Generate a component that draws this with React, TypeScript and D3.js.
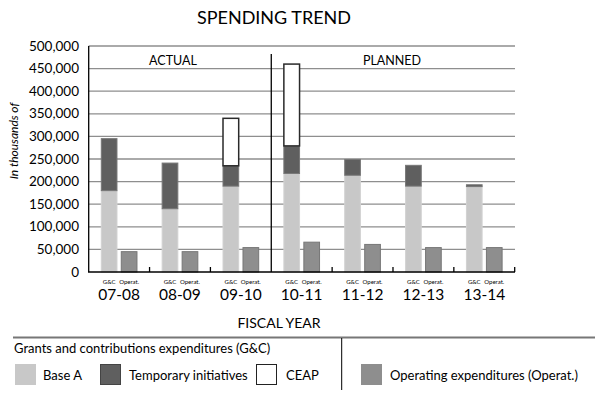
import React, { useEffect, useRef } from 'react'
import * as d3 from 'd3'

const years = ['07-08', '08-09', '09-10', '10-11', '11-12', '12-13', '13-14']
const baseA = [180000, 140000, 190000, 218000, 214000, 190000, 189000]
const temporary = [115000, 101000, 45000, 61000, 35000, 46000, 4000]
const ceap = [0, 0, 105000, 181000, 0, 0, 0]
const operating = [45000, 45000, 54000, 66000, 61000, 54000, 54000]
const yTicks = [0, 50000, 100000, 150000, 200000, 250000, 300000, 350000, 400000, 450000, 500000]
const subBars = ['G&C', 'Operat.']

const FONT = 'Lato, "Open Sans", sans-serif'

export default function App() {
  const svgRef = useRef(null)

  useEffect(() => {
    const svg = d3.select(svgRef.current)
    svg.selectAll('*').remove()

    const x = d3.scaleBand().domain(years).range([88.7, 514.7]).padding(0)
    const xSub = d3
      .scaleBand()
      .domain(subBars)
      .range([0, x.bandwidth()])
      .paddingInner(0.215)
      .paddingOuter(0.63)
    const y = d3.scaleLinear().domain([0, 500000]).range([272, 46])

    // title
    svg
      .append('text')
      .attr('x', 274)
      .attr('y', 24)
      .attr('text-anchor', 'middle')
      .attr('font-size', 18)
      .attr('font-family', FONT)
      .text('SPENDING TREND')

    // gridlines
    svg
      .append('g')
      .selectAll('line')
      .data(yTicks.filter((d) => d > 0))
      .enter()
      .append('line')
      .attr('x1', 88.7)
      .attr('x2', 515)
      .attr('y1', (d) => y(d))
      .attr('y2', (d) => y(d))
      .attr('stroke', '#8e8e8e')
      .attr('stroke-width', 1.3)

    // y tick labels
    svg
      .append('g')
      .selectAll('text')
      .data(yTicks)
      .enter()
      .append('text')
      .attr('x', 79)
      .attr('y', (d) => y(d) + 4.5)
      .attr('text-anchor', 'end')
      .attr('font-size', 13.5)
      .attr('font-family', FONT)
      .text((d) => d3.format(',')(d))

    svg
      .append('text')
      .attr('transform', 'translate(18,141) rotate(-90)')
      .attr('text-anchor', 'middle')
      .attr('font-size', 12)
      .attr('font-style', 'italic')
      .attr('font-family', FONT)
      .text('In thousands of')

    // stacked G&C bars
    const rows = years.map((yr, i) => ({
      year: yr,
      base: baseA[i],
      temp: temporary[i],
      ceap: ceap[i],
    }))
    const stack = d3.stack().keys(['base', 'temp', 'ceap'])(rows)
    const fills = { base: '#c8c8c8', temp: '#5f5f5f', ceap: '#ffffff' }
    const strokes = { base: '#d2d2d2', temp: '#777777', ceap: '#2a2a2a' }

    stack.forEach((layer) => {
      svg
        .append('g')
        .selectAll('rect')
        .data(layer.filter((d) => d[1] > d[0]))
        .enter()
        .append('rect')
        .attr('x', (d) => x(d.data.year) + xSub('G&C'))
        .attr('y', (d) => y(d[1]))
        .attr('width', xSub.bandwidth())
        .attr('height', (d) => y(d[0]) - y(d[1]))
        .attr('fill', fills[layer.key])
        .attr('stroke', strokes[layer.key])
        .attr('stroke-width', layer.key === 'ceap' ? 1.5 : 1)
    })

    // operating bars
    svg
      .append('g')
      .selectAll('rect')
      .data(years)
      .enter()
      .append('rect')
      .attr('x', (d) => x(d) + xSub('Operat.'))
      .attr('y', (d, i) => y(operating[i]))
      .attr('width', xSub.bandwidth())
      .attr('height', (d, i) => y(0) - y(operating[i]))
      .attr('fill', '#8e8e8e')
      .attr('stroke', '#777777')
      .attr('stroke-width', 1)

    // axes
    svg
      .append('line')
      .attr('x1', 88.7)
      .attr('x2', 88.7)
      .attr('y1', 46)
      .attr('y2', 272)
      .attr('stroke', '#000')
      .attr('stroke-width', 1.3)
    svg
      .append('line')
      .attr('x1', 88)
      .attr('x2', 515)
      .attr('y1', 272)
      .attr('y2', 272)
      .attr('stroke', '#000')
      .attr('stroke-width', 1.3)

    // group separators on baseline
    svg
      .append('g')
      .selectAll('line')
      .data(years.slice(1).concat(['end']))
      .enter()
      .append('line')
      .attr('x1', (d) => (d === 'end' ? 514.7 : x(d)))
      .attr('x2', (d) => (d === 'end' ? 514.7 : x(d)))
      .attr('y1', (d) => (d === '10-11' ? 54 : 267))
      .attr('y2', 272)
      .attr('stroke', '#000')
      .attr('stroke-width', 1.3)

    svg
      .append('text')
      .attr('x', 173)
      .attr('y', 65)
      .attr('text-anchor', 'middle')
      .attr('font-size', 12.5)
      .attr('font-family', FONT)
      .text('ACTUAL')
    svg
      .append('text')
      .attr('x', 392)
      .attr('y', 65)
      .attr('text-anchor', 'middle')
      .attr('font-size', 12.5)
      .attr('font-family', FONT)
      .text('PLANNED')

    // x labels
    const groups = svg
      .append('g')
      .selectAll('g')
      .data(years)
      .enter()
      .append('g')
      .attr('transform', (d) => `translate(${x(d)},0)`)
    subBars.forEach((s) => {
      groups
        .append('text')
        .attr('x', xSub(s) + xSub.bandwidth() / 2)
        .attr('y', 284)
        .attr('text-anchor', 'middle')
        .attr('font-size', 6)
        .attr('font-family', FONT)
        .text(s)
    })
    groups
      .append('text')
      .attr('x', x.bandwidth() / 2)
      .attr('y', 299.5)
      .attr('text-anchor', 'middle')
      .attr('font-size', 15.5)
      .attr('font-family', FONT)
      .text((d) => d)

    svg
      .append('text')
      .attr('x', 279)
      .attr('y', 328)
      .attr('text-anchor', 'middle')
      .attr('font-size', 14)
      .attr('font-family', FONT)
      .text('FISCAL YEAR')

    // legend
    svg
      .append('line')
      .attr('x1', 13)
      .attr('x2', 595)
      .attr('y1', 337.5)
      .attr('y2', 337.5)
      .attr('stroke', '#777')
      .attr('stroke-width', 2)
    svg
      .append('line')
      .attr('x1', 341.7)
      .attr('x2', 341.7)
      .attr('y1', 338)
      .attr('y2', 390)
      .attr('stroke', '#000')
      .attr('stroke-width', 1)
    svg
      .append('text')
      .attr('x', 14)
      .attr('y', 353)
      .attr('font-size', 13)
      .attr('font-family', FONT)
      .text('Grants and contributions expenditures (G&C)')

    const legendItems = [
      { label: 'Base A', fill: '#c8c8c8', stroke: '#c8c8c8', x: 15 },
      { label: 'Temporary initiatives', fill: '#5f5f5f', stroke: '#444', x: 100 },
      { label: 'CEAP', fill: '#ffffff', stroke: '#222', x: 256 },
      { label: 'Operating expenditures (Operat.)', fill: '#8e8e8e', stroke: '#8e8e8e', x: 361 },
    ]
    const leg = svg
      .append('g')
      .selectAll('g')
      .data(legendItems)
      .enter()
      .append('g')
      .attr('transform', (d) => `translate(${d.x},364)`)
    leg
      .append('rect')
      .attr('x', 0.5)
      .attr('y', 0.5)
      .attr('width', 20)
      .attr('height', 20)
      .attr('fill', (d) => d.fill)
      .attr('stroke', (d) => d.stroke)
      .attr('stroke-width', 1)
    leg
      .append('text')
      .attr('x', (d) => (d.label === 'Base A' ? 28 : d.label === 'CEAP' ? 30 : 29))
      .attr('y', 15.5)
      .attr('font-size', 13)
      .attr('font-family', FONT)
      .text((d) => d.label)
  }, [])

  return (
    <svg
      ref={svgRef}
      width="595"
      height="396"
      style={{ position: 'absolute', left: 0, top: 0, background: '#fff' }}
    ></svg>
  )
}
